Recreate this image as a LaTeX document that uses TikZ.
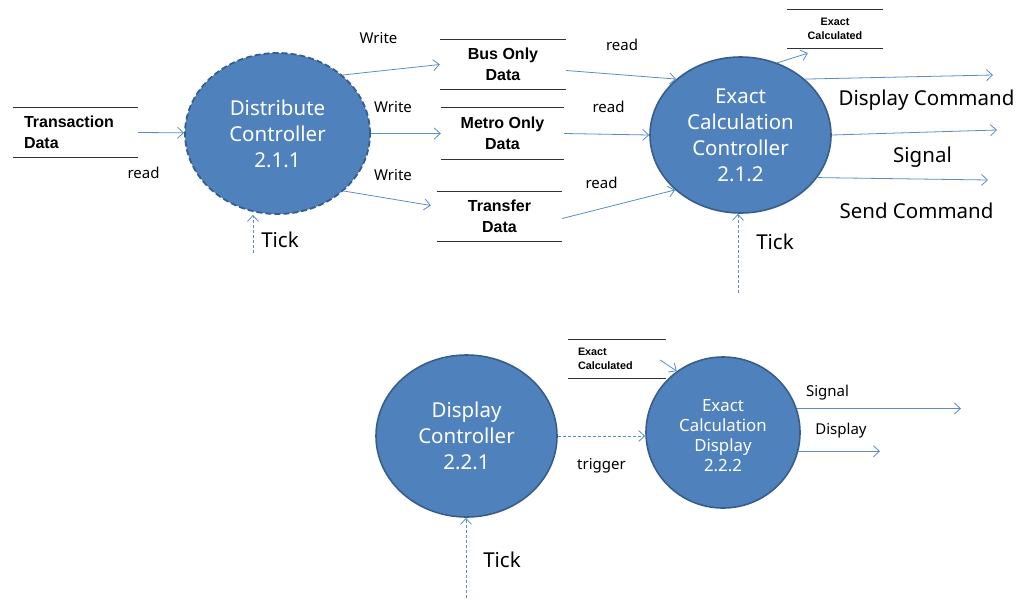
\documentclass[tikz,border=0pt]{standalone}
\usepackage{fontspec}
\setmainfont{Noto Sans}
\newfontfamily\storefont{Liberation Sans}
\usetikzlibrary{arrows.meta,shapes.geometric}
\definecolor{pblue}{RGB}{79,129,189}
\definecolor{pborder}{RGB}{56,93,138}
\definecolor{fblue}{RGB}{90,140,200}
\begin{document}
\begin{tikzpicture}[x=1pt,y=-1pt,
 proc/.style={ellipse,fill=pblue,draw=pborder,line width=1.6pt,text=white,align=center,inner sep=0pt,font=\fontsize{20.5}{26}\selectfont},
 store/.style={inner sep=0pt,align=center,font=\storefont\bfseries\fontsize{16}{21}\selectfont},
 sline/.style={draw=black!80,line width=1.1pt},
 flow/.style={draw=fblue,line width=0.8pt,-{Straight Barb[length=6pt,width=11pt]}},
 ctrl/.style={flow,dash pattern=on 3pt off 2pt},
 lbl/.style={inner sep=0pt,font=\fontsize{15}{18}\selectfont},
 big/.style={inner sep=0pt,font=\fontsize{20.5}{24}\selectfont}]

\fill[white] (0,0) rectangle (1034,600);
\useasboundingbox (0,0) rectangle (1034,600);

% processes
\node[proc,minimum width=185pt,minimum height=161pt,line width=1.8pt,dash pattern=on 6pt off 3pt] (dist) at (277.5,133.5) {Distribute\\Controller\\2.1.1};
\node[proc,minimum width=181pt,minimum height=156pt] (exact) at (740.5,135) {Exact\\Calculation\\Controller\\2.1.2};
\node[proc,minimum width=181pt,minimum height=162pt] (disp) at (466.5,436) {Display\\Controller\\2.2.1};
\node[proc,minimum width=154pt,minimum height=151pt,font=\fontsize{16.8}{20}\selectfont] (ecd) at (723,432.5) {\raisebox{-9pt}[0pt][0pt]{\begin{tabular}{@{}c@{}}Exact\\Calculation\\Display\\2.2.2\end{tabular}}};

% stores
\node[store,minimum width=125pt,minimum height=49pt,text width=103pt,align=left] (trans) at (75.5,132.5) {Transaction\\Data};
\node[store,minimum width=126pt,minimum height=49pt] (bus) at (503,64.5) {Bus Only\\Data};
\node[store,minimum width=123pt,minimum height=51pt] (metro) at (502.5,133.5) {Metro Only\\Data};
\node[store,minimum width=125pt,minimum height=49pt] (tran) at (499.5,216.5) {Transfer\\Data};
\node[store,minimum width=96pt,minimum height=38pt,font=\storefont\bfseries\fontsize{10.8}{14}\selectfont] (ecs) at (835,29) {Exact\\Calculated};
\node[store,minimum width=98pt,minimum height=38pt,text width=78pt,align=left,font=\storefont\bfseries\fontsize{10.8}{14}\selectfont] (ecsb) at (617,359) {Exact\\Calculated};
\foreach \s in {trans,bus,metro,tran,ecs,ecsb}{
  \draw[sline] (\s.north west) -- (\s.north east) (\s.south west) -- (\s.south east);
}

% flows
\draw[flow] (trans.east) -- (dist);
\draw[flow] (dist.42) -- (bus.west);
\draw[flow] (dist.east) -- (metro.west);
\draw[flow] (dist.-41) -- ([shift={(-6pt,11pt)}]tran.west);
\draw[flow] ([yshift=-6pt]bus.east) -- (exact.139);
\draw[flow] (metro.east) -- (exact.west);
\draw[flow] ([yshift=-2pt]tran.east) -- (exact.220);
\draw[flow] (exact.63) -- ([shift={(21pt,-5pt)}]ecs.south west);
\coordinate (dcend) at (993,75);
\coordinate (sigend) at (997,130);
\coordinate (sendend) at (988,180);
\draw[flow] (exact.41) -- (dcend);
\draw[flow] (exact.east) -- (sigend);
\draw[flow] (exact.-29) -- (sendend);

\coordinate (t1) at (253,253);
\coordinate (t2) at (738,293);
\coordinate (t3) at (466,598);
\draw[ctrl] (t1) -- (t1 |- dist.south);
\draw[ctrl] (t2) -- (t2 |- exact.south);
\draw[ctrl] (t3) -- (t3 |- disp.south);
\draw[ctrl] (disp.east) -- (disp.east -| ecd.west);

\draw[flow] ([shift={(-6pt,-1pt)}]ecsb.east) -- (ecd.127);
\coordinate (sig2) at (961,409);
\coordinate (dsp2) at (880,451);
\draw[flow] (ecd.18) -- (ecd.18 -| sig2);
\draw[flow] (ecd.-14) -- (ecd.-14 -| dsp2);

% labels
\node[lbl] (lread) at (143.5,173) {read};
\node[lbl] (lw1) at (378.5,38) {Write};
\node[lbl] (lw2) at (393,107) {Write};
\node[lbl] (lw3) at (393,175) {Write};
\node[lbl] (lr1) at (622,45) {read};
\node[lbl] (lr2) at (608.5,107) {read};
\node[lbl] (lr3) at (601.5,183) {read};
\node[big] (ltick1) at (280,240) {Tick};
\node[big] (ltick2) at (775,242) {Tick};
\node[big] (ldc) at (926.5,100) {Display Command};
\node[big] (lsig) at (922.5,157) {Signal};
\node[big] (lsend) at (916.5,211) {Send Command};
\node[lbl] (ltrig) at (601.5,466) {trigger};
\node[lbl] (lsig2) at (827.5,393) {Signal};
\node[lbl] (ldisp2) at (841,431) {Display};
\node[big] (ltick3) at (502,560) {Tick};
\end{tikzpicture}
\end{document}
